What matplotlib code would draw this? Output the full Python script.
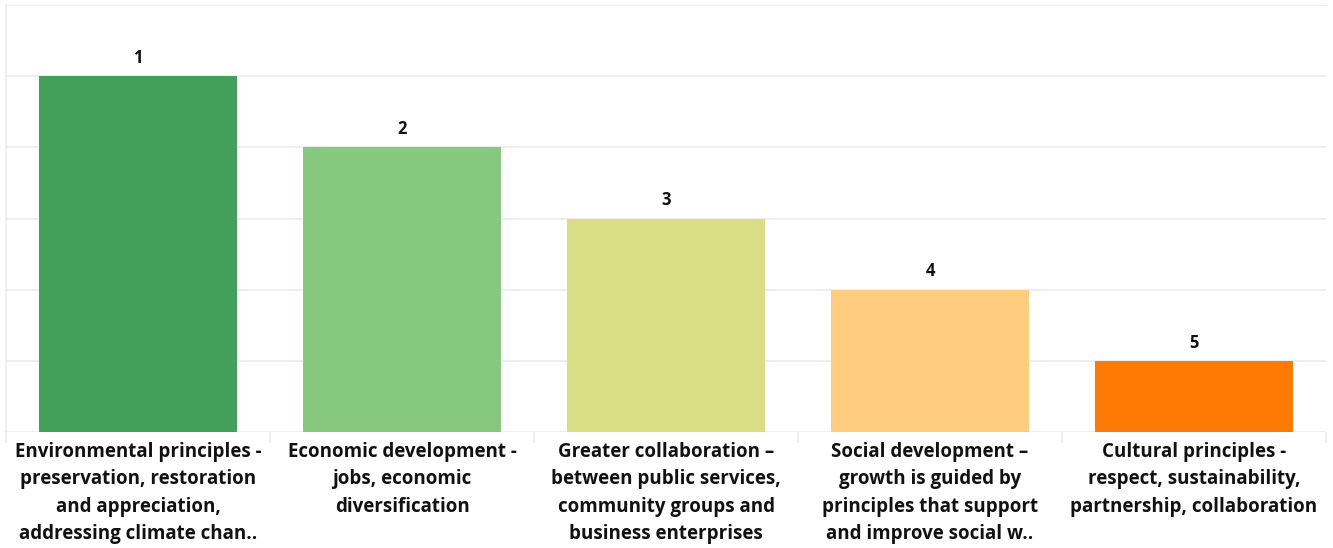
import matplotlib.pyplot as plt
import numpy as np

categories = [
    "Environmental principles -\npreservation, restoration\nand appreciation,\naddressing climate chan..",
    "Economic development -\njobs, economic\ndiversification",
    "Greater collaboration –\nbetween public services,\ncommunity groups and\nbusiness enterprises",
    "Social development –\ngrowth is guided by\nprinciples that support\nand improve social w..",
    "Cultural principles -\nrespect, sustainability,\npartnership, collaboration",
]
scores = [5, 4, 3, 2, 1]
ranks = ["1", "2", "3", "4", "5"]
colors = ["#43a05a", "#85c87e", "#d9de85", "#ffcc80", "#ff7a05"]

plt.rcParams['font.family'] = ['Open Sans', 'DejaVu Sans']

fig = plt.figure(figsize=(13.33, 5.48), dpi=100)
ax = fig.add_axes([6 / 1333, 116 / 548, 1320 / 1333, 427 / 548])

x = np.arange(len(categories))
bars = ax.bar(x, scores, width=0.75, color=colors, zorder=2)

for b, r in zip(bars, ranks):
    ax.text(b.get_x() + b.get_width() / 2, b.get_height() + 0.13, r,
            ha='center', va='bottom', fontsize=12, fontweight='bold', color='#111111')

ax.set_xlim(-0.5, len(categories) - 0.5)
ax.set_ylim(0, 5.98)
ax.set_yticks(range(0, 7))
ax.set_yticklabels([])
ax.tick_params(axis='y', length=0)
ax.grid(axis='y', color='#ebebeb', linewidth=1.2, zorder=0)

ax.set_xticks(x)
ax.set_xticklabels(categories, fontsize=13.5, fontweight='bold', color='#111111',
                   linespacing=1.5)
ax.tick_params(axis='x', length=0, pad=7)
ax.set_xticks(np.arange(-0.5, len(categories)), minor=True)
ax.tick_params(axis='x', which='minor', length=8, color='#ebebeb', width=1.2)

for s in ['top', 'right', 'bottom']:
    ax.spines[s].set_visible(False)
ax.spines['left'].set_color('#ebebeb')
ax.spines['left'].set_linewidth(1.2)

fig.savefig('out.png', dpi=100)
